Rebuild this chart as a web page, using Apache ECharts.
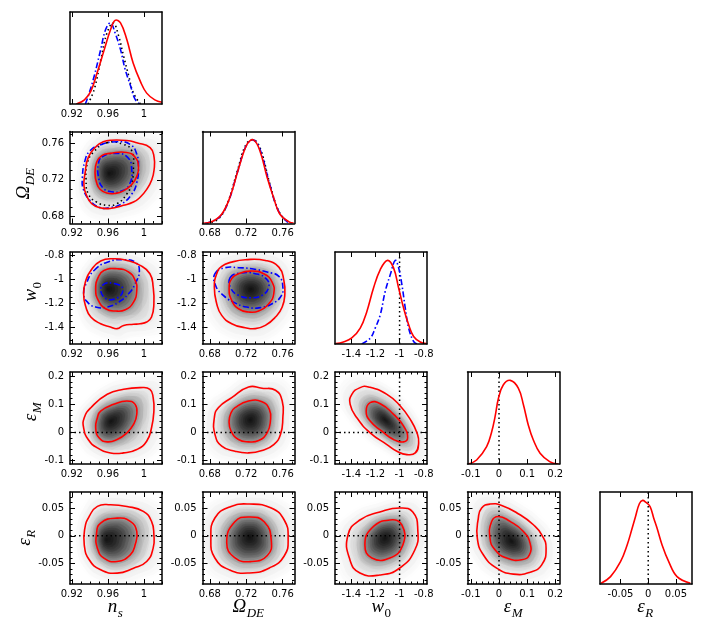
<!DOCTYPE html>
<html><head><meta charset="utf-8">
<script src="https://cdn.jsdelivr.net/npm/echarts@6/dist/echarts.min.js"></script>
<style>html,body{margin:0;padding:0;background:#fff}#c{width:706px;height:635px}</style>
</head><body><div id="c"></div>
<script>
// ---------- tick labels ----------
const nsTicks = [0.92, 0.96, 1];
const omTicks = [0.68, 0.72, 0.76];
const w0Ticks = [-1.4, -1.2, -1, -0.8];
const eMTicks = [-0.1, 0, 0.1, 0.2];
const eRTicks = [-0.05, 0, 0.05];
const fiducial = { w0: -1, eM: 0, eR: 0 };

// ---------- 1D marginals [value, relative density] ----------
const nsRed  = [[0.925,0],[0.934,0.05],[0.941,0.15],[0.948,0.37],[0.956,0.65],[0.963,0.89],[0.968,1.0],[0.974,0.97],[0.981,0.77],[0.988,0.49],[0.996,0.27],[1.003,0.13],[1.012,0.05],[1.02,0.02]];
const nsBlue = [[0.935,0],[0.939,0.12],[0.945,0.34],[0.952,0.65],[0.9575,0.89],[0.963,0.97],[0.968,0.85],[0.974,0.65],[0.979,0.42],[0.985,0.22],[0.990,0.06],[0.995,0]];
const nsDot  = [[0.938,0],[0.945,0.18],[0.952,0.52],[0.959,0.85],[0.966,0.97],[0.972,0.81],[0.9775,0.57],[0.983,0.34],[0.988,0.14],[0.996,0]];
const omRed  = [[0.671,0.004],[0.682,0.02],[0.693,0.11],[0.702,0.31],[0.712,0.67],[0.721,0.95],[0.728,1.0],[0.735,0.87],[0.743,0.55],[0.750,0.31],[0.757,0.11],[0.767,0.02],[0.772,0.004]];
const omBlue = [[0.675,0],[0.69,0.07],[0.70,0.25],[0.71,0.6],[0.72,0.93],[0.7275,1.0],[0.735,0.89],[0.745,0.5],[0.755,0.16],[0.765,0.02],[0.77,0]];
const omDot  = [[0.677,0],[0.69,0.06],[0.70,0.26],[0.71,0.62],[0.72,0.95],[0.7285,1.0],[0.736,0.88],[0.746,0.47],[0.756,0.14],[0.766,0.01]];
const w0Red  = [[-1.53,0.004],[-1.465,0.024],[-1.396,0.072],[-1.326,0.19],[-1.271,0.39],[-1.216,0.67],[-1.16,0.89],[-1.1,1.0],[-1.05,0.91],[-1.008,0.67],[-0.967,0.43],[-0.925,0.23],[-0.884,0.09],[-0.829,0.024],[-0.778,0.004]];
const w0Blue = [[-1.313,0],[-1.243,0.07],[-1.202,0.19],[-1.16,0.35],[-1.119,0.63],[-1.077,0.83],[-1.036,1.0],[-1.008,0.91],[-0.981,0.71],[-0.953,0.43],[-0.925,0.19],[-0.884,0.03],[-0.856,0]];
const eMRed  = [[-0.109,0],[-0.0795,0.048],[-0.044,0.207],[-0.026,0.386],[-0.014,0.566],[-0.002,0.786],[0.015,0.945],[0.04,1.0],[0.069,0.905],[0.087,0.706],[0.104,0.467],[0.122,0.287],[0.146,0.128],[0.18,0.028],[0.211,0]];
const eRRed  = [[-0.085,0.008],[-0.068,0.088],[-0.05,0.267],[-0.038,0.467],[-0.029,0.666],[-0.023,0.805],[-0.016,0.96],[-0.010,1.0],[-0.004,0.975],[0.002,0.94],[0.006,0.88],[0.010,0.786],[0.016,0.666],[0.025,0.467],[0.037,0.267],[0.052,0.088],[0.076,0.008]];

// ---------- 2D contours (1 = inner, 2 = outer) and density peaks ----------
const nsOm_peak  = [0.961, 0.727];
const nsOm_red1  = [[0.9624,0.749],[0.9809,0.750],[0.9902,0.7448],[0.9939,0.7342],[0.992,0.7237],[0.9865,0.7149],[0.9772,0.7078],[0.968,0.705],[0.9587,0.7054],[0.9513,0.7096],[0.9476,0.7166],[0.9458,0.7272],[0.9476,0.7395],[0.9532,0.7465]];
const nsOm_red2  = [[0.9624,0.7634],[0.9809,0.7631],[0.992,0.7606],[1.0068,0.7553],[1.0112,0.7448],[1.0112,0.7307],[1.0087,0.7201],[1.0031,0.7096],[0.9957,0.7008],[0.9883,0.6955],[0.9772,0.692],[0.9624,0.6885],[0.9513,0.6892],[0.9421,0.6937],[0.9365,0.7025],[0.9335,0.7131],[0.9347,0.7272],[0.9384,0.7448],[0.9476,0.7571],[0.955,0.7617]];
const nsOm_blue1 = [[0.9532,0.7448],[0.968,0.749],[0.9816,0.7448],[0.9865,0.7307],[0.9839,0.7149],[0.9754,0.7078],[0.9643,0.7068],[0.9543,0.7113],[0.9495,0.7237],[0.9495,0.7377]];
const nsOm_blue2 = [[0.9513,0.7582],[0.9698,0.7617],[0.9846,0.7589],[0.992,0.7483],[0.9939,0.7342],[0.992,0.7166],[0.9865,0.7043],[0.9754,0.6937],[0.9624,0.6895],[0.9513,0.6895],[0.9402,0.6973],[0.9328,0.7096],[0.9317,0.7219],[0.9347,0.7413],[0.9402,0.7518]];
const nsOm_dot2  = [[0.9587,0.7606],[0.9772,0.7589],[0.9865,0.7518],[0.9883,0.7342],[0.9865,0.7166],[0.9809,0.7043],[0.9698,0.6937],[0.9587,0.692],[0.9476,0.6955],[0.9384,0.7043],[0.9358,0.7201],[0.9372,0.7377],[0.9439,0.7501]];

const nsW0_peak  = [0.960, -1.08];
const nsW0_red1  = [[0.9556,-0.926],[0.9702,-0.912],[0.9829,-0.939],[0.9902,-1.008],[0.992,-1.091],[0.9884,-1.188],[0.9793,-1.251],[0.9684,-1.262],[0.9575,-1.243],[0.9494,-1.174],[0.9465,-1.077],[0.9494,-0.981]];
const nsW0_red2  = [[0.952,-0.848],[0.9666,-0.829],[0.9811,-0.843],[0.9957,-0.884],[1.0066,-0.953],[1.0102,-1.063],[1.011,-1.201],[1.0084,-1.312],[1.003,-1.353],[0.9957,-1.367],[0.9884,-1.372],[0.9775,-1.381],[0.9702,-1.408],[0.9629,-1.394],[0.952,-1.367],[0.9411,-1.312],[0.9356,-1.229],[0.9331,-1.119],[0.9356,-1.008],[0.9411,-0.926]];
const nsW0_blue1 = [[0.9538,-1.050],[0.9684,-1.036],[0.9767,-1.086],[0.9684,-1.160],[0.9556,-1.146]];
const nsW0_blue2 = [[0.9447,-0.926],[0.9593,-0.857],[0.9775,-0.837],[0.9902,-0.857],[0.9949,-0.926],[0.9902,-1.036],[0.9829,-1.119],[0.972,-1.188],[0.9593,-1.229],[0.9465,-1.229],[0.9374,-1.188],[0.9331,-1.119],[0.9367,-1.022]];

const omW0_peak  = [0.725, -1.08];
const omW0_red1  = [[0.7115,-0.953],[0.7244,-0.931],[0.7392,-0.953],[0.7484,-1.022],[0.7502,-1.119],[0.7447,-1.201],[0.7336,-1.262],[0.7226,-1.270],[0.7115,-1.243],[0.7041,-1.174],[0.7012,-1.077],[0.7041,-0.994]];
const omW0_red2  = [[0.7041,-0.857],[0.7189,-0.837],[0.741,-0.843],[0.7558,-0.898],[0.7613,-1.008],[0.7624,-1.119],[0.7595,-1.229],[0.7521,-1.312],[0.741,-1.381],[0.73,-1.408],[0.7189,-1.400],[0.7041,-1.367],[0.6931,-1.298],[0.6876,-1.201],[0.685,-1.063],[0.6876,-0.953],[0.6931,-0.892]];
const omW0_blue1 = [[0.7023,-0.986],[0.7134,-0.948],[0.730,-0.953],[0.7418,-0.994],[0.7447,-1.063],[0.7373,-1.132],[0.7244,-1.152],[0.7115,-1.132],[0.7034,-1.077]];
const omW0_blue2 = [[0.6857,-0.953],[0.6968,-0.903],[0.7115,-0.903],[0.7263,-0.912],[0.7429,-0.939],[0.7558,-0.975],[0.7602,-1.063],[0.7576,-1.146],[0.7484,-1.201],[0.7355,-1.234],[0.7207,-1.229],[0.706,-1.188],[0.6949,-1.132],[0.6864,-1.050]];

const nsEM_peak  = [0.963, 0.04];
const nsEM_red1  = [[0.952,0.0762],[0.9666,0.1],[0.9811,0.1119],[0.9902,0.1],[0.992,0.0643],[0.9884,0.0286],[0.9811,-0.0012],[0.9702,-0.025],[0.9593,-0.0333],[0.9502,-0.019],[0.9465,0.0167],[0.9484,0.0524]];
const nsEM_red2  = [[0.9411,0.0881],[0.9593,0.1357],[0.9775,0.1536],[0.9957,0.1595],[1.0066,0.1536],[1.0102,0.1238],[1.011,0.0762],[1.0084,0.0167],[1.003,-0.031],[0.992,-0.0607],[0.9775,-0.0726],[0.9629,-0.0726],[0.9484,-0.0548],[0.9382,-0.025],[0.9331,0.0167],[0.9338,0.0524]];

const omEM_peak  = [0.7245, 0.045];
const omEM_red1  = [[0.7078,0.0881],[0.7226,0.1119],[0.7373,0.1095],[0.7454,0.0821],[0.7465,0.0405],[0.7429,-0.0012],[0.7336,-0.0286],[0.7226,-0.0333],[0.7115,-0.025],[0.7034,0.0048],[0.7012,0.0405],[0.7034,0.0702]];
const omEM_red2  = [[0.7041,0.1238],[0.7226,0.1619],[0.7373,0.1571],[0.7521,0.15],[0.7595,0.1119],[0.7602,0.0524],[0.7576,-0.0071],[0.7502,-0.0429],[0.7373,-0.0643],[0.7226,-0.0726],[0.7078,-0.0667],[0.6931,-0.0488],[0.6857,-0.0071],[0.685,0.0524],[0.6894,0.0881]];

const w0EM_peak  = [-1.12, 0.045];
const w0EM_red1  = [[-1.2434,0.106],[-1.1604,0.1024],[-1.0498,0.0643],[-0.9668,0.0226],[-0.9336,-0.019],[-0.9668,-0.0333],[-1.0498,-0.025],[-1.1466,0.0048],[-1.2434,0.0405],[-1.2766,0.0762]];
const w0EM_red2  = [[-1.3264,0.1595],[-1.2572,0.1619],[-1.1051,0.1357],[-0.9945,0.094],[-0.9115,0.0464],[-0.8562,-0.0012],[-0.8423,-0.0369],[-0.87,-0.0726],[-0.9391,-0.0786],[-1.0221,-0.0667],[-1.1051,-0.0429],[-1.2434,-0.0012],[-1.354,0.0524],[-1.4094,0.1],[-1.3955,0.1357]];

const nsER_peak  = [0.958, -0.007];
const nsER_red1  = [[0.952,0.0229],[0.9702,0.0319],[0.9848,0.0259],[0.992,0.0078],[0.9902,-0.0163],[0.9848,-0.0343],[0.9702,-0.0464],[0.9556,-0.0403],[0.9484,-0.0223],[0.9473,0.0018]];
const nsER_red2  = [[0.9484,0.053],[0.9629,0.056],[0.9811,0.053],[0.9993,0.044],[1.0084,0.0259],[1.011,0.0018],[1.0102,-0.0223],[1.003,-0.0464],[0.9884,-0.0584],[0.9702,-0.0674],[0.952,-0.0614],[0.9393,-0.0433],[0.9338,-0.0163],[0.9345,0.0138],[0.9393,0.0349]];

const omER_peak  = [0.724, -0.002];
const omER_red1  = [[0.7073,0.0249],[0.7236,0.0339],[0.7399,0.0249],[0.7475,-0.0086],[0.7432,-0.0356],[0.7258,-0.0465],[0.7073,-0.0393],[0.6986,-0.0122]];
const omER_red2  = [[0.7019,0.0519],[0.7236,0.0573],[0.7475,0.0501],[0.7617,0.0285],[0.766,-0.004],[0.7617,-0.0365],[0.7454,-0.0581],[0.7236,-0.0671],[0.7019,-0.0617],[0.6856,-0.0401],[0.6812,-0.004],[0.6856,0.0321]];

const w0ER_peak  = [-1.12, -0.004];
const w0ER_red1  = [[-1.2872,-0.0166],[-1.2294,0.0141],[-1.0807,0.0285],[-0.9815,0.0195],[-0.9733,-0.0166],[-1.0807,-0.0401],[-1.2294,-0.0401]];
const w0ER_red2  = [[-1.411,-0.0437],[-1.4276,0.0014],[-1.3285,0.0285],[-1.1633,0.0429],[-0.998,0.0501],[-0.8906,0.0429],[-0.8493,0.0104],[-0.8741,-0.0257],[-0.998,-0.0581],[-1.1633,-0.0708],[-1.3285,-0.0671]];

const eMER_peak  = [0.045, -0.010];
const eMER_red1  = [[-0.0261,0.0259],[-0.0024,0.0349],[0.0391,0.0259],[0.0866,0.0078],[0.1103,-0.0132],[0.1079,-0.0343],[0.0807,-0.0433],[0.0273,-0.0403],[-0.0142,-0.0253],[-0.032,-0.0042]];
const eMER_red2  = [[-0.032,0.0572],[0.0095,0.0548],[0.0747,0.0379],[0.1222,0.0199],[0.1518,0.0018],[0.1673,-0.0223],[0.1518,-0.0524],[0.1103,-0.0656],[0.051,-0.0692],[-0.0083,-0.0584],[-0.0558,-0.0343],[-0.0771,-0.0042],[-0.0735,0.0319],[-0.0617,0.05]];

// ---------- layout & style ----------
const PARAMS = ['ns','om','w0','eM','eR'];
const AXES = {
  ns: { min: 0.918, max: 1.02,  ticks: nsTicks, minorStep: 0.01 },
  om: { min: 0.672, max: 0.773, ticks: omTicks, minorStep: 0.01 },
  w0: { min: -1.535, max: -0.773, ticks: w0Ticks, minorStep: 0.05 },
  eM: { min: -0.112, max: 0.215, ticks: eMTicks, minorStep: 0.02 },
  eR: { min: -0.087, max: 0.079, ticks: eRTicks, minorStep: 0.01 }
};
const DIAG_Y = { min: 0, max: 1.1 };
const colLeft = [70, 202.5, 335, 467.5, 600];
const rowTop = [12, 131.5, 252, 372, 492];
const SIZE = 92;
const RED = '#ff0000', BLUE = '#0000ff', BLACK = '#000000';
const DASHDOT = [6, 2.5, 1.5, 2.5], DOTTED = [1.5, 3];
// density shading layers: [scale about peak, opacity]
const SHADE_OUTER = [[1.35, 0.012], [1.2, 0.015], [1.05, 0.02], [0.9, 0.025], [0.75, 0.03], [0.6, 0.03]];
const SHADE_INNER = [[1.4, 0.03], [1.25, 0.04], [1.1, 0.05], [0.95, 0.06], [0.85, 0.07], [0.75, 0.08], [0.65, 0.09], [0.55, 0.1],
                     [0.45, 0.11], [0.35, 0.12], [0.25, 0.14], [0.15, 0.16], [0.07, 0.18]];

function minorVals(a) {
  const out = [];
  const k0 = Math.ceil(a.min / a.minorStep - 1e-9), k1 = Math.floor(a.max / a.minorStep + 1e-9);
  for (let k = k0; k <= k1; k++) out.push(+(k * a.minorStep).toFixed(6));
  return out;
}

const option = { animation: false, backgroundColor: '#fff', grid: [], xAxis: [], yAxis: [], series: [], graphic: [] };

function axisDef(gi, a, pos, labels, minor, lineShow) {
  return {
    type: 'value', gridIndex: gi, position: pos, min: a.min, max: a.max, z: 10,
    axisLine: { show: lineShow, onZero: false, lineStyle: { color: '#000', width: 1.5 } },
    splitLine: { show: false },
    axisTick: { show: true, inside: true, length: minor ? 2.5 : 5, customValues: minor ? minorVals(a) : a.ticks, lineStyle: { color: '#000', width: 1 } },
    axisLabel: { show: labels, customValues: a.ticks, margin: (pos === 'left') ? 6 : 5, fontSize: 10, color: '#000', fontFamily: 'DejaVu Sans', formatter: v => String(v) }
  };
}

function addGrid(r, c) {
  const gi = option.grid.length;
  option.grid.push({ left: colLeft[c], top: rowTop[r], width: SIZE, height: SIZE, show: false });
  const diag = r === c;
  const ax = AXES[PARAMS[c]];
  const xi = option.xAxis.length;
  option.xAxis.push(axisDef(gi, ax, 'bottom', true, false, true));
  option.xAxis.push(axisDef(gi, ax, 'top', false, false, true));
  if (!diag) {
    option.xAxis.push(axisDef(gi, ax, 'bottom', false, true, false));
    option.xAxis.push(axisDef(gi, ax, 'top', false, true, false));
  }
  const yi = option.yAxis.length;
  if (diag) {
    ['left', 'right'].forEach(pos => option.yAxis.push({ type: 'value', gridIndex: gi, position: pos, min: DIAG_Y.min, max: DIAG_Y.max, z: 10,
      axisLine: { show: true, onZero: false, lineStyle: { color: '#000', width: 1.5 } }, axisTick: { show: false }, axisLabel: { show: false }, splitLine: { show: false } }));
  } else {
    const ay = AXES[PARAMS[r]];
    option.yAxis.push(axisDef(gi, ay, 'left', true, false, true));
    option.yAxis.push(axisDef(gi, ay, 'right', false, false, true));
    option.yAxis.push(axisDef(gi, ay, 'left', false, true, false));
    option.yAxis.push(axisDef(gi, ay, 'right', false, true, false));
  }
  return { xi, yi };
}

// smooth open curve through the data points (bezier smoothing done by the renderer)
function curveS(g, pts, color, dash) {
  return { type: 'custom', xAxisIndex: g.xi, yAxisIndex: g.yi, data: pts, clip: true, silent: true, z: 4,
    renderItem(params, api) {
      if (params.dataIndex !== 0) return null;
      const points = pts.map(p => api.coord(p));
      return { type: 'polyline', shape: { points, smooth: 0.4 },
        style: { fill: null, stroke: color, lineWidth: 1.6, lineDash: dash || null } };
    } };
}
function refS(g, dim, val, xa, ya) {
  const data = dim === 'x' ? [[val, ya.min], [val, ya.max]] : [[xa.min, val], [xa.max, val]];
  return { type: 'line', xAxisIndex: g.xi, yAxisIndex: g.yi, data, showSymbol: false, symbol: 'none', silent: true, clip: true, z: 3,
    lineStyle: { color: BLACK, width: 1.5, type: DOTTED, cap: 'butt' } };
}
function contourS(g, pts, color, dash) {
  return { type: 'custom', xAxisIndex: g.xi, yAxisIndex: g.yi, data: pts, clip: true, silent: true, z: 5,
    renderItem(params, api) {
      if (params.dataIndex !== 0) return null;
      const points = pts.map(p => api.coord(p));
      return { type: 'polygon', shape: { points, smooth: 0.5 },
        style: { fill: null, stroke: color, lineWidth: 1.6, lineDash: dash || null } };
    } };
}
function densityS(g, outer, inner, peak) {
  return { type: 'custom', xAxisIndex: g.xi, yAxisIndex: g.yi, data: [peak], clip: true, silent: true, z: 1,
    renderItem(params, api) {
      const pk = api.coord(peak);
      const oP = outer.map(p => api.coord(p));
      const iP = inner.map(p => api.coord(p));
      const layer = (P, s, a) => ({ type: 'polygon', shape: { points: P, smooth: 0.5 },
        originX: pk[0], originY: pk[1], scaleX: s, scaleY: s,
        style: { fill: 'rgba(0,0,0,' + a + ')', shadowBlur: 12, shadowColor: 'rgba(0,0,0,1)' } });
      const children = [];
      SHADE_OUTER.forEach(l => children.push(layer(oP, l[0], l[1])));
      SHADE_INNER.forEach(l => children.push(layer(iP, l[0], l[1])));
      return { type: 'group', children };
    } };
}

// ---------- diagonal panels ----------
const diagSpec = [
  { i: 0, curves: [[nsRed, RED], [nsBlue, BLUE, DASHDOT], [nsDot, BLACK, DOTTED]], refs: [] },
  { i: 1, curves: [[omRed, RED], [omBlue, BLUE, DASHDOT], [omDot, BLACK, DOTTED]], refs: [] },
  { i: 2, curves: [[w0Red, RED], [w0Blue, BLUE, DASHDOT]], refs: [fiducial.w0] },
  { i: 3, curves: [[eMRed, RED]], refs: [fiducial.eM] },
  { i: 4, curves: [[eRRed, RED]], refs: [fiducial.eR] }
];
const gridOf = {};
for (let r = 0; r < 5; r++) for (let c = 0; c <= r; c++) gridOf[r + '_' + c] = addGrid(r, c);

diagSpec.forEach(d => {
  const g = gridOf[d.i + '_' + d.i];
  d.refs.forEach(v => option.series.push(refS(g, 'x', v, AXES[PARAMS[d.i]], DIAG_Y)));
  d.curves.slice().reverse().forEach(cv => option.series.push(curveS(g, cv[0], cv[1], cv[2])));
});

// ---------- 2D panels ----------
const panels = [
  { r: 1, c: 0, peak: nsOm_peak, inner: nsOm_red1, outer: nsOm_red2, extra: [[nsOm_dot2, BLACK, DOTTED], [nsOm_blue2, BLUE, DASHDOT], [nsOm_blue1, BLUE, DASHDOT]], refs: [] },
  { r: 2, c: 0, peak: nsW0_peak, inner: nsW0_red1, outer: nsW0_red2, extra: [[nsW0_blue2, BLUE, DASHDOT], [nsW0_blue1, BLUE, DASHDOT]], refs: [] },
  { r: 2, c: 1, peak: omW0_peak, inner: omW0_red1, outer: omW0_red2, extra: [[omW0_blue2, BLUE, DASHDOT], [omW0_blue1, BLUE, DASHDOT]], refs: [] },
  { r: 3, c: 0, peak: nsEM_peak, inner: nsEM_red1, outer: nsEM_red2, extra: [], refs: [['y', fiducial.eM]] },
  { r: 3, c: 1, peak: omEM_peak, inner: omEM_red1, outer: omEM_red2, extra: [], refs: [['y', fiducial.eM]] },
  { r: 3, c: 2, peak: w0EM_peak, inner: w0EM_red1, outer: w0EM_red2, extra: [], refs: [['x', fiducial.w0], ['y', fiducial.eM]] },
  { r: 4, c: 0, peak: nsER_peak, inner: nsER_red1, outer: nsER_red2, extra: [], refs: [['y', fiducial.eR]] },
  { r: 4, c: 1, peak: omER_peak, inner: omER_red1, outer: omER_red2, extra: [], refs: [['y', fiducial.eR]] },
  { r: 4, c: 2, peak: w0ER_peak, inner: w0ER_red1, outer: w0ER_red2, extra: [], refs: [['x', fiducial.w0], ['y', fiducial.eR]] },
  { r: 4, c: 3, peak: eMER_peak, inner: eMER_red1, outer: eMER_red2, extra: [], refs: [['x', fiducial.eM], ['y', fiducial.eR]] }
];
panels.forEach(p => {
  const g = gridOf[p.r + '_' + p.c];
  const xa = AXES[PARAMS[p.c]], ya = AXES[PARAMS[p.r]];
  option.series.push(densityS(g, p.outer, p.inner, p.peak));
  p.refs.forEach(rf => option.series.push(refS(g, rf[0], rf[1], xa, ya)));
  p.extra.forEach(e => option.series.push(contourS(g, e[0], e[1], e[2])));
  option.series.push(contourS(g, p.outer, RED));
  option.series.push(contourS(g, p.inner, RED));
});

// ---------- parameter names ----------
const mctx = document.createElement('canvas').getContext('2d');
function mathLabel(cx, cy, main, sub, rotated, subItalic) {
  const mf = 'italic 19px "Liberation Serif"';
  const sf = (subItalic === false ? '' : 'italic ') + '13px "Liberation Serif"';
  mctx.font = mf; const mw = mctx.measureText(main).width;
  mctx.font = sf; const sw = mctx.measureText(sub).width;
  const x0 = -(mw + sw) / 2;
  return { type: 'group', x: cx, y: cy, rotation: rotated ? Math.PI / 2 : 0, silent: true, children: [
    { type: 'text', x: x0, y: 0, style: { text: main, font: mf, fill: '#000', textAlign: 'left', align: 'left', textVerticalAlign: 'middle', verticalAlign: 'middle' } },
    { type: 'text', x: x0 + mw + 0.5, y: 7, style: { text: sub, font: sf, fill: '#000', textAlign: 'left', align: 'left', textVerticalAlign: 'middle', verticalAlign: 'middle' } }
  ] };
}
option.graphic = [
  mathLabel(24, 184, 'Ω', 'DE', true),
  mathLabel(31, 292, 'w', '0', true, false),
  mathLabel(31, 412, 'ε', 'M', true),
  mathLabel(25, 538, 'ε', 'R', true),
  mathLabel(115, 607, 'n', 's', false),
  mathLabel(248, 607, 'Ω', 'DE', false),
  mathLabel(381, 607, 'w', '0', false, false),
  mathLabel(513, 607, 'ε', 'M', false),
  mathLabel(645, 607, 'ε', 'R', false)
];

const chart = echarts.init(document.getElementById('c'), null, { renderer: 'canvas' });
chart.setOption(option);
</script>
</body></html>
